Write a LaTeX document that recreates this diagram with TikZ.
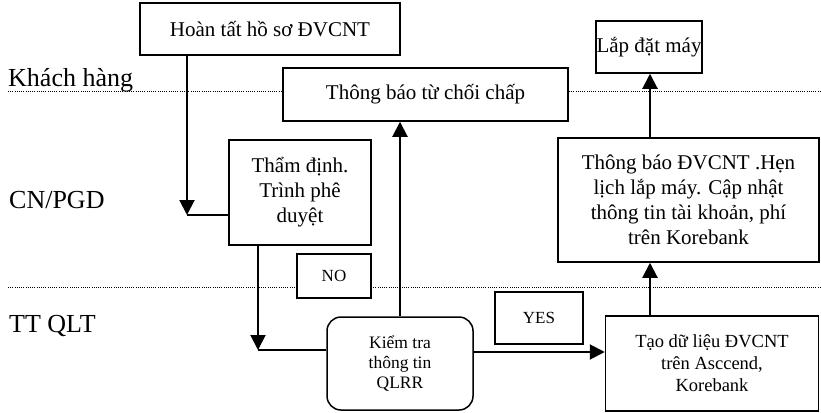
\documentclass[tikz,border=0pt]{standalone}
\usepackage{fontspec}
\setmainfont{Liberation Serif}
\usetikzlibrary{arrows.meta}
\begin{document}
\begin{tikzpicture}[x=1pt,y=-1pt,
  box/.style={draw,line width=1.5pt,fill=white,align=center,inner sep=0pt,font=\fontsize{21}{25}\selectfont},
  small/.style={box,font=\fontsize{17.5}{20}\selectfont},
  tag/.style={box,font=\fontsize{17}{20}\selectfont},
  lane/.style={anchor=base west,inner sep=0pt,font=\fontsize{26}{30}\selectfont},
  conn/.style={line width=2pt},
  arr/.style={conn,-{Triangle[length=15pt,width=15pt]}},
  sep/.style={line width=1pt,dash pattern=on 1pt off 1.2pt}]
\useasboundingbox (0,0) rectangle (821,412);
% lanes
\draw[sep] (8,91) -- (821,91);
\draw[sep] (8,287) -- (821,287);
\node[lane] (l1) at (8,86) {Khách hàng};
\node[lane] (l2) at (9,208) {CN/PGD};
\node[lane] (l3) at (9,332) {TT QLT};
% boxes
\node[box,minimum width=260,minimum height=52] (hs) at (270,29) {Hoàn tất hồ sơ ĐVCNT};
\node[box,minimum width=285,minimum height=53] (rej) at (425.5,94.5) {Thông báo từ chối chấp};
\node[box,minimum width=106,minimum height=52] (lap) at (649,47) {Lắp đặt máy};
\node[box,minimum width=142,minimum height=105] (tham) at (300,192.5) {Thẩm định.\\Trình phê\\duyệt};
\node[tag,minimum width=74,minimum height=44] (no) at (334,276) {NO};
\node[small,rounded corners=14pt,minimum width=146,minimum height=93] (kiem) at (400,363.5) {Kiểm tra\\thông tin\\QLRR};
\node[tag,minimum width=88,minimum height=52] (yes) at (539,318) {YES};
\node[box,font=\fontsize{18.5}{22}\selectfont,minimum width=213,minimum height=95] (tao) at (712,363.5) {Tạo dữ liệu ĐVCNT\\trên Asccend,\\Korebank};
\node[box,minimum width=261,minimum height=124] (tb) at (688.5,200) {Thông báo ĐVCNT .Hẹn\\lịch lắp máy. Cập nhật\\thông tin tài khoản, phí\\trên Korebank};
% connectors
\coordinate (c1) at (187,215);
\coordinate (c2) at (258,350);
\coordinate (c3) at (473,352);
\coordinate (ax) at (650,0);
\draw[arr] (hs.south -| c1) -- (c1);
\draw[conn] (c1) -- (tham.west |- c1);
\draw[arr] (tham.south -| c2) -- (c2);
\draw[conn] (c2) -- (kiem.west |- c2);
\draw[arr] (kiem.north) -- (kiem.north |- rej.south);
\draw[arr] (kiem.east |- c3) -- (tao.west |- c3);
\draw[arr] (tao.north -| ax) -- (tb.south -| ax);
\draw[arr] (tb.north -| ax) -- (lap.south -| ax);
\end{tikzpicture}
\end{document}
